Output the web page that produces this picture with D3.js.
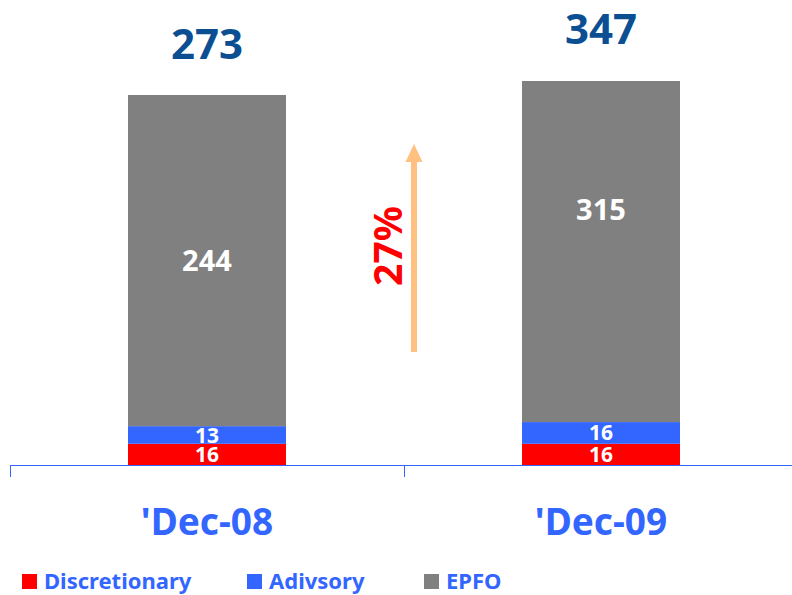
<!DOCTYPE html>
<html><head><meta charset="utf-8">
<script src="https://cdn.jsdelivr.net/npm/d3@7"></script>
<style>body{margin:0;background:#fff}svg{display:block}text{font-family:"Noto Sans",sans-serif;font-weight:bold}</style>
</head><body><svg id="c" width="792" height="595"></svg>
<script>
const categories = ["'Dec-08", "'Dec-09"];
const discretionary = [16, 16];
const advisory = [13, 16];
const epfo = [244, 315];
const totals = [273, 347];
const growthLabel = "27%";
const seriesNames = ["Discretionary", "Adivsory", "EPFO"];
const colors = ["#FF0000", "#3366FF", "#808080"];

const svg = d3.select("#c");
const x = d3.scaleBand().domain(categories).range([10, 798]).paddingInner(0).paddingOuter(0);
// chart is not drawn to scale in the source: piecewise linear value scale
const y = d3.scaleLinear().domain([0, 273, 347]).range([465.5, 95, 81]);
const barW = 158;

const series = [discretionary, advisory, epfo];
categories.forEach((c, i) => {
  let base = 0;
  const cx = x(c) + x.bandwidth() / 2;
  series.forEach((s, k) => {
    const v = s[i];
    const y0 = y(base), y1 = y(base + v);
    svg.append("rect").attr("x", cx - barW / 2).attr("y", y1).attr("width", barW).attr("height", y0 - y1).attr("fill", colors[k]);
    const fs = k === 2 ? 29 : 21;
    let ly = (y0 + y1) / 2;
    if (k === 2 && i === 1) ly = y1 + 129;
    svg.append("text").attr("x", cx).attr("y", ly).attr("dy", "0.36em").attr("text-anchor", "middle")
      .attr("fill", "#fff").attr("font-size", fs).text(v);
    base += v;
  });
  svg.append("text").attr("x", cx).attr("y", y(totals[i]) - (i === 0 ? 36 : 37)).attr("text-anchor", "middle")
    .attr("fill", "#0B4F92").attr("font-size", 42).text(totals[i]);
  svg.append("text").attr("x", cx).attr("y", 535).attr("text-anchor", "middle")
    .attr("fill", "#3366FF").attr("font-size", 37).text(c);
});

// axis
const ay = 465.5;
svg.append("line").attr("x1", 10).attr("x2", 798).attr("y1", ay).attr("y2", ay).attr("stroke", "#3366FF").attr("stroke-width", 1);
categories.concat([null]).forEach((c, i) => {
  const tx = c === null ? x.range()[1] : x(c);
  svg.append("line").attr("x1", tx + 0.5).attr("x2", tx + 0.5).attr("y1", ay).attr("y2", 477).attr("stroke", "#3366FF").attr("stroke-width", 1);
});

// growth arrow
const axc = 414;
svg.append("rect").attr("x", axc - 3).attr("y", 161).attr("width", 6).attr("height", 352 - 161).attr("fill", "#FFC080");
svg.append("path").attr("d", `M${axc - 8.5},162 L${axc},144 L${axc + 8.5},162 Z`).attr("fill", "#FFC080");
svg.append("text").attr("transform", "translate(402,246) rotate(-90)").attr("text-anchor", "middle")
  .attr("fill", "#FF0000").attr("font-size", 39).text(growthLabel);

// legend
const legX = [22, 247, 424];
seriesNames.forEach((n, k) => {
  svg.append("rect").attr("x", legX[k]).attr("y", 574).attr("width", 15).attr("height", 15).attr("fill", colors[k]);
  svg.append("text").attr("x", legX[k] + 22).attr("y", 589).attr("fill", "#3366FF").attr("font-size", 22).text(n);
});
</script></body></html>
